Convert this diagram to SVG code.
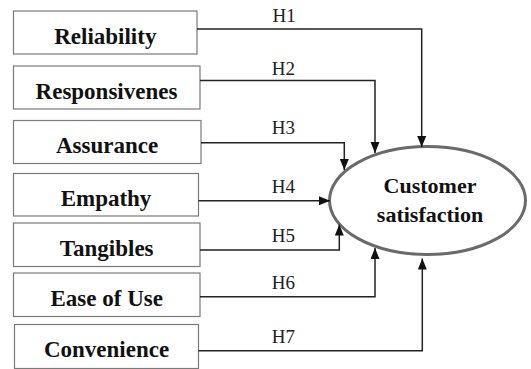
<svg xmlns="http://www.w3.org/2000/svg" width="531" height="369" viewBox="0 0 531 369">
<style>
.box{fill:#fff;stroke:#7a7a7a;stroke-width:1.2}
.bt{font-family:'Liberation Serif','Times New Roman','DejaVu Serif',serif;font-weight:bold;font-size:23px;fill:#111;text-anchor:middle}
.et{font-family:'Liberation Serif','Times New Roman','DejaVu Serif',serif;font-weight:bold;font-size:22px;fill:#111;text-anchor:middle}
.h{font-family:'Liberation Serif','Times New Roman','DejaVu Serif',serif;font-size:19px;fill:#222}
.c{fill:none;stroke:#222;stroke-width:1.5;marker-end:url(#ah)}
</style>
<defs>
<marker id="ah" markerUnits="userSpaceOnUse" markerWidth="12" markerHeight="10" refX="11" refY="4.5" orient="auto">
<path d="M0,0 L11,4.5 L0,9 z" fill="#111"/>
</marker>
</defs>
<rect width="531" height="369" fill="#fff"/>
<g id="reliability"><rect class="box" x="13.5" y="11" width="183.5" height="43"/><text class="bt" x="105.3" y="43.5">Reliability</text></g>
<g id="responsiveness"><rect class="box" x="13.5" y="66" width="186.5" height="43"/><text class="bt" x="106.5" y="98.5">Responsivenes</text></g>
<g id="assurance"><rect class="box" x="13.5" y="120.5" width="187.5" height="43"/><text class="bt" x="107" y="152.7">Assurance</text></g>
<g id="empathy"><rect class="box" x="13.5" y="173.5" width="185" height="42.5"/><text class="bt" x="106" y="206">Empathy</text></g>
<g id="tangibles"><rect class="box" x="13.5" y="223" width="186.5" height="43.5"/><text class="bt" x="106.7" y="256">Tangibles</text></g>
<g id="ease-of-use"><rect class="box" x="13.5" y="273" width="186.5" height="43.5"/><text class="bt" x="106.7" y="306">Ease of Use</text></g>
<g id="convenience"><rect class="box" x="14.5" y="324.5" width="184" height="44"/><text class="bt" x="106.5" y="357.3">Convenience</text></g>
<g id="customer-satisfaction"><ellipse cx="427.5" cy="200.5" rx="98" ry="54" fill="#fff" stroke="#6a6a6a" stroke-width="3"/><text class="et" x="430" y="192.7">Customer</text><text class="et" x="430" y="221.7">satisfaction</text></g>
<g id="connectors">
<path class="c" d="M197,29 H421.7 V147"/>
<path class="c" d="M200,80.5 H375 V153"/>
<path class="c" d="M201,142.7 H344.3 V170"/>
<path class="c" d="M198.5,200.7 H330"/>
<path class="c" d="M200,250 H339.3 V224.5"/>
<path class="c" d="M200,296.7 H375 V248"/>
<path class="c" d="M198.5,350.7 H422.3 V258.5"/>
<text class="h" x="272.5" y="21.7">H1</text>
<text class="h" x="271.7" y="75">H2</text>
<text class="h" x="271.7" y="134">H3</text>
<text class="h" x="271.7" y="193.3">H4</text>
<text class="h" x="271.7" y="242.3">H5</text>
<text class="h" x="271.7" y="289.3">H6</text>
<text class="h" x="271.7" y="343.3">H7</text>
</g>
</svg>
